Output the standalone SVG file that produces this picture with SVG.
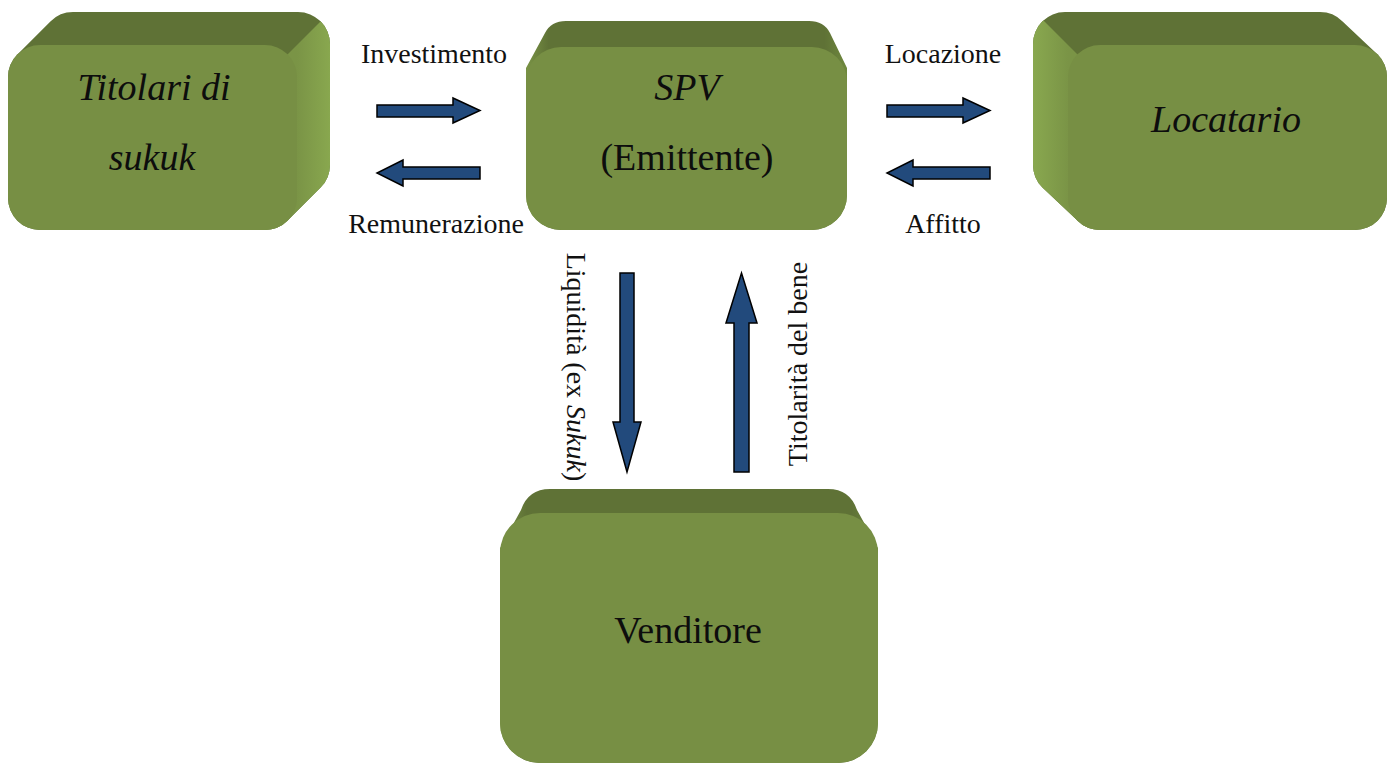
<svg xmlns="http://www.w3.org/2000/svg" width="1390" height="764" viewBox="0 0 1390 764">
  <style>
    .top { fill: #5f7236; }
    .face { fill: #778f44; }
    .lbl { font-family: "Liberation Serif", "Times New Roman", serif; font-size: 28px; fill: #111; text-anchor: middle; }
    .big { font-family: "Liberation Serif", "Times New Roman", serif; font-size: 38px; fill: #0d0d0d; text-anchor: middle; }
    .it { font-style: italic; }
    .arrow { fill: #224a7c; stroke: #000; stroke-width: 1.5; stroke-linejoin: miter; }
  </style>
  <defs>
    <linearGradient id="sideR" x1="297" y1="0" x2="331" y2="0" gradientUnits="userSpaceOnUse">
      <stop offset="0" stop-color="#7a9446"/>
      <stop offset="1" stop-color="#89a84f"/>
    </linearGradient>
    <linearGradient id="sideL" x1="1068" y1="0" x2="1033" y2="0" gradientUnits="userSpaceOnUse">
      <stop offset="0" stop-color="#7a9446"/>
      <stop offset="1" stop-color="#89a84f"/>
    </linearGradient>
    <linearGradient id="capB" x1="526" y1="0" x2="847" y2="0" gradientUnits="userSpaceOnUse">
      <stop offset="0" stop-color="#7a9446"/>
      <stop offset="0.07" stop-color="#5f7236"/>
      <stop offset="0.93" stop-color="#5f7236"/>
      <stop offset="1" stop-color="#6f893e"/>
    </linearGradient>
    <linearGradient id="capD" x1="500" y1="0" x2="878" y2="0" gradientUnits="userSpaceOnUse">
      <stop offset="0" stop-color="#7a9446"/>
      <stop offset="0.07" stop-color="#5f7236"/>
      <stop offset="0.93" stop-color="#5f7236"/>
      <stop offset="1" stop-color="#6f893e"/>
    </linearGradient>
    <clipPath id="hullA">
      <path d="M40,230 A32,32 0 0 1 8,198 L8,77 A32,32 0 0 1 17.4,54.4 L50.4,21.4 A32,32 0 0 1 73,12 L298,12 A32,32 0 0 1 330,44 L330,165 A32,32 0 0 1 320.6,187.6 L287.6,220.6 A32,32 0 0 1 265,230 Z"/>
    </clipPath>
    <clipPath id="hullC">
      <path d="M1387,198 A32,32 0 0 1 1355,230 L1100,230 A32,32 0 0 1 1077.4,220.6 L1042.4,187.6 A32,32 0 0 1 1033,165 L1033,44 A32,32 0 0 1 1065,12 L1320,12 A32,32 0 0 1 1342.6,21.4 L1377.6,54.4 A32,32 0 0 1 1387,77 Z"/>
    </clipPath>
  </defs>

  <!-- Titolari di sukuk: block extruded up and to the right -->
  <g id="titolari">
    <g clip-path="url(#hullA)">
      <rect class="top" x="0" y="0" width="340" height="240"/>
      <polygon fill="url(#sideR)" points="240,102 360,-18 360,250 240,250"/>
    </g>
    <rect class="face" x="8" y="45" width="289" height="185" rx="32"/>
    <text class="big it" x="154" y="100">Titolari di</text>
    <text class="big it" x="152" y="170">sukuk</text>
  </g>

  <!-- SPV (Emittente): block seen from the front, top face visible -->
  <g id="spv">
    <path fill="url(#capB)" d="M561,230 A35,35 0 0 1 526,195 L526,68 L545,33 Q551,21 566,21 L809,21 Q824,21 830,33 L847,68 L847,195 A35,35 0 0 1 812,230 Z"/>
    <rect class="face" x="526" y="47" width="321" height="183" rx="35"/>
    <text class="big it" x="687" y="100">SPV</text>
    <text class="big" x="687" y="170">(Emittente)</text>
  </g>

  <!-- Locatario: block extruded up and to the left -->
  <g id="locatario">
    <g clip-path="url(#hullC)">
      <rect class="top" x="1020" y="0" width="370" height="240"/>
      <polygon fill="url(#sideL)" points="1132,109 1010,-13 1010,250 1132,250"/>
    </g>
    <rect class="face" x="1068" y="45" width="319" height="185" rx="32"/>
    <text class="big it" x="1226" y="132">Locatario</text>
  </g>

  <!-- Venditore: block seen from the front, top face visible -->
  <g id="venditore">
    <path fill="url(#capD)" d="M540,763 A40,40 0 0 1 500,723 L500,548 L521,510 Q528,489 550,489 L828,489 Q850,489 857,510 L878,548 L878,723 A40,40 0 0 1 838,763 Z"/>
    <rect class="face" x="500" y="513" width="378" height="250" rx="40"/>
    <text class="big" x="688" y="643">Venditore</text>
  </g>

  <!-- block arrows between the parties -->
  <g id="connectors">
    <polygon class="arrow" points="377,105 453,105 453,98 480,110.5 453,123 453,117 377,117"/>
    <polygon class="arrow" points="480,167 403,167 403,160 377,173 403,186 403,179 480,179"/>
    <polygon class="arrow" points="887,105 963,105 963,98 990,110.5 963,123 963,117 887,117"/>
    <polygon class="arrow" points="990,167 913,167 913,160 887,173 913,186 913,179 990,179"/>
    <polygon class="arrow" points="620,273 634,273 634,422 641,422 627,472 613,422 620,422"/>
    <polygon class="arrow" points="734,472 749,472 749,323 757,323 741.5,273 726,323 734,323"/>

    <text class="lbl" x="434" y="63">Investimento</text>
    <text class="lbl" x="436" y="233">Remunerazione</text>
    <text class="lbl" x="943" y="63">Locazione</text>
    <text class="lbl" x="943" y="233">Affitto</text>
    <text class="lbl" transform="translate(567,367) rotate(90)">Liquidità (ex <tspan class="it">Sukuk</tspan>)</text>
    <text class="lbl" transform="translate(807,364) rotate(-90)">Titolarità del bene</text>
  </g>
</svg>
